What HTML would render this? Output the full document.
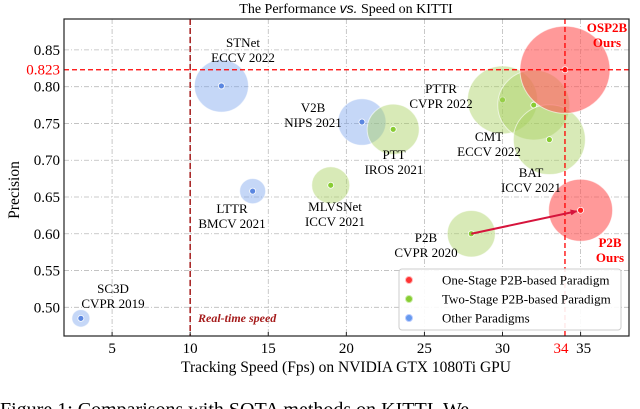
<!DOCTYPE html>
<html><head><meta charset="utf-8"><style>
html,body{margin:0;padding:0;background:#fff;width:640px;height:409px;overflow:hidden}
svg{display:block;font-family:"Liberation Serif",serif}
</style></head><body>
<svg id="chart" width="640" height="409" viewBox="0 0 640 409" xmlns="http://www.w3.org/2000/svg">
<defs>
<marker id="arrowhead" markerWidth="8" markerHeight="8" refX="6" refY="3" orient="auto" markerUnits="userSpaceOnUse"><path d="M0,0 L7,3 L0,6 Z" fill="#d6143c"/></marker>
<clipPath id="plotclip"><rect x="64" y="19" width="565" height="317"/></clipPath>
</defs>
<text x="346" y="13" font-size="14" text-anchor="middle">The Performance <tspan font-style="italic" font-family="Liberation Sans,sans-serif">vs.</tspan>  Speed on KITTI</text>
<g id="grid"></g>
<g id="bubbles" clip-path="url(#plotclip)"></g>
<g id="refs"></g>
<g id="labels"></g>
<rect x="64" y="19" width="565" height="317" fill="none" stroke="#222" stroke-width="1.2"/>
<g id="ticks"></g>
<text x="346" y="372" font-size="15.5" text-anchor="middle">Tracking Speed (Fps) on NVIDIA GTX 1080Ti GPU</text>
<text x="0" y="0" font-size="15.5" text-anchor="middle" transform="translate(19,190) rotate(-90)">Precision</text>
<text x="198" y="322" font-size="12" font-style="italic" font-weight="bold" fill="#a51b1b">Real-time speed</text>
<g>
<rect x="399" y="269" width="222" height="61" rx="3" fill="#fff" fill-opacity="0.9" stroke="#ccc"/>
<g><circle cx="409" cy="280" r="3.5" fill="#f33" stroke="#fbb"/><text x="442" y="284.5" font-size="13">One-Stage P2B-based Paradigm</text></g>
<g><circle cx="409" cy="299" r="3.5" fill="#8c3" stroke="#cea"/><text x="442" y="303.5" font-size="13">Two-Stage P2B-based Paradigm</text></g>
<g><circle cx="409" cy="318" r="3.5" fill="#69e" stroke="#bcf"/><text x="442" y="322.5" font-size="13">Other Paradigms</text></g>
</g>
<text x="0" y="416" font-size="20">Figure 1:  Comparisons with SOTA methods on KITTI. We</text>
<script>
const names=["STNet","V2B","PTT","MLVSNet","LTTR","SC3D","P2B","PTTR","CMT","BAT","OSP2B","P2B-Ours"];
const speeds=[12,21,23,19,14,3,28,30,32,33,34,35];
const precisions=[0.801,0.752,0.742,0.666,0.658,0.485,0.600,0.782,0.775,0.728,0.823,0.632];
const radii=[27,24,26,19,13,9,24,35,36,36,45,32];
const groups=["other","other","two","two","other","other","two","two","two","two","one","one"];
const xTicks=[5,10,15,20,25,30,35];
const yTicks=[0.50,0.55,0.60,0.65,0.70,0.75,0.80,0.85];
const X0=64,X1=629,Y0=19,Y1=336,xmin=1.92,xmax=38.1,ymin=0.461,ymax=0.892;
const sx=v=>X0+(v-xmin)/(xmax-xmin)*(X1-X0);
const sy=v=>Y1-(v-ymin)/(ymax-ymin)*(Y1-Y0);
const NS="http://www.w3.org/2000/svg";
function mk(tag,attrs,parent){const e=document.createElementNS(NS,tag);for(const k in attrs)e.setAttribute(k,attrs[k]);parent.appendChild(e);return e;}
const grid=document.getElementById('grid'),ticks=document.getElementById('ticks');
xTicks.forEach(t=>{
 const l=mk('line',{x1:sx(t),x2:sx(t),y1:Y0,y2:Y1,stroke:'#bbb','stroke-width':0.8,'stroke-dasharray':'5,2,1,2'},grid);
 
 
 const tk=mk('line',{x1:sx(t),x2:sx(t),y1:Y1,y2:Y1-4,stroke:'#222'},ticks);
 
 
 const tx=mk('text',{x:sx(t)+(t===35?3:0),y:353,'font-size':15,'text-anchor':'middle'},ticks);tx.textContent=t;
 
 
});
yTicks.forEach(t=>{
 const l=mk('line',{x1:X0,x2:X1,y1:sy(t),y2:sy(t),stroke:'#bbb','stroke-width':0.8,'stroke-dasharray':'5,2,1,2'},grid);
 
 
 const tx=mk('text',{x:60,y:sy(t)+5,'font-size':15,'text-anchor':'end'},ticks);tx.textContent=t.toFixed(2);
 
 
});
const t823=mk('text',{x:60,y:sy(0.823)+5,'font-size':15,'text-anchor':'end',fill:'#f00'},ticks);t823.textContent='0.823';


const t34=mk('text',{x:sx(34)-4,y:353,'font-size':15,'text-anchor':'middle',fill:'#f00'},ticks);t34.textContent='34';


const fills={one:'#f55',two:'#a8d060',other:'#7fa6ee'},dots={one:'#f22',two:'#8c3',other:'#5a86e0'};
const bub=document.getElementById('bubbles');
names.forEach((n,i)=>{
 const g=groups[i],cx=sx(speeds[i]),cy=sy(precisions[i]);
 const c=mk('ellipse',{cx:cx,cy:cy,rx:radii[i],ry:radii[i]*0.97,fill:fills[g],'fill-opacity':g==='one'?0.6:0.45,stroke:'#fff','stroke-opacity':0.6},bub);
 
 
 const d=mk('circle',{cx:cx,cy:cy,r:3,fill:dots[g],stroke:'#fff','stroke-width':0.8},bub);
 
 
});
const refs=document.getElementById('refs');
let r1=mk('line',{x1:sx(10),x2:sx(10),y1:Y0,y2:Y1,stroke:'#a51b1b','stroke-width':1.5,'stroke-dasharray':'6,3'},refs);


let r2=mk('line',{x1:sx(34),x2:sx(34),y1:Y0,y2:Y1,stroke:'#f00','stroke-width':1.3,'stroke-dasharray':'5,3'},refs);


let r3=mk('line',{x1:X0,x2:X1,y1:sy(0.823),y2:sy(0.823),stroke:'#f00','stroke-width':1.3,'stroke-dasharray':'5,3'},refs);


let ar=mk('line',{x1:sx(28),y1:sy(0.600),x2:sx(35)-4,y2:sy(0.632)+1,stroke:'#d6143c','stroke-width':2,'marker-end':'url(#arrowhead)'},refs);


const labelText=[["STNet","ECCV 2022",243,43],["V2B","NIPS 2021",313,108],["PTT","IROS 2021",394,155],["PTTR","CVPR 2022",441,89],["CMT","ECCV 2022",489,137],["BAT","ICCV 2021",531,173],["MLVSNet","ICCV 2021",335,207],["LTTR","BMCV 2021",232,209],["P2B","CVPR 2020",426,238],["SC3D","CVPR 2019",113,289]];
const labs=document.getElementById('labels');
labelText.forEach(l=>{
 const t=mk('text',{x:l[2],y:l[3]+4,'font-size':13,'text-anchor':'middle'},labs);
 
 
 const a=mk('tspan',{x:l[2]},t);a.textContent=l[0];
 const b=mk('tspan',{x:l[2],dy:15},t);b.textContent=l[1];
});
[["OSP2B","Ours",607,28],["P2B","Ours",610,243]].forEach(l=>{
 const t=mk('text',{x:l[2],y:l[3]+4,'font-size':13,'font-weight':'bold',fill:'#f00','text-anchor':'middle'},labs);
 
 
 const a=mk('tspan',{x:l[2]},t);a.textContent=l[0];
 const b=mk('tspan',{x:l[2],dy:15},t);b.textContent=l[1];
});
</script>
</svg>
</body></html>
